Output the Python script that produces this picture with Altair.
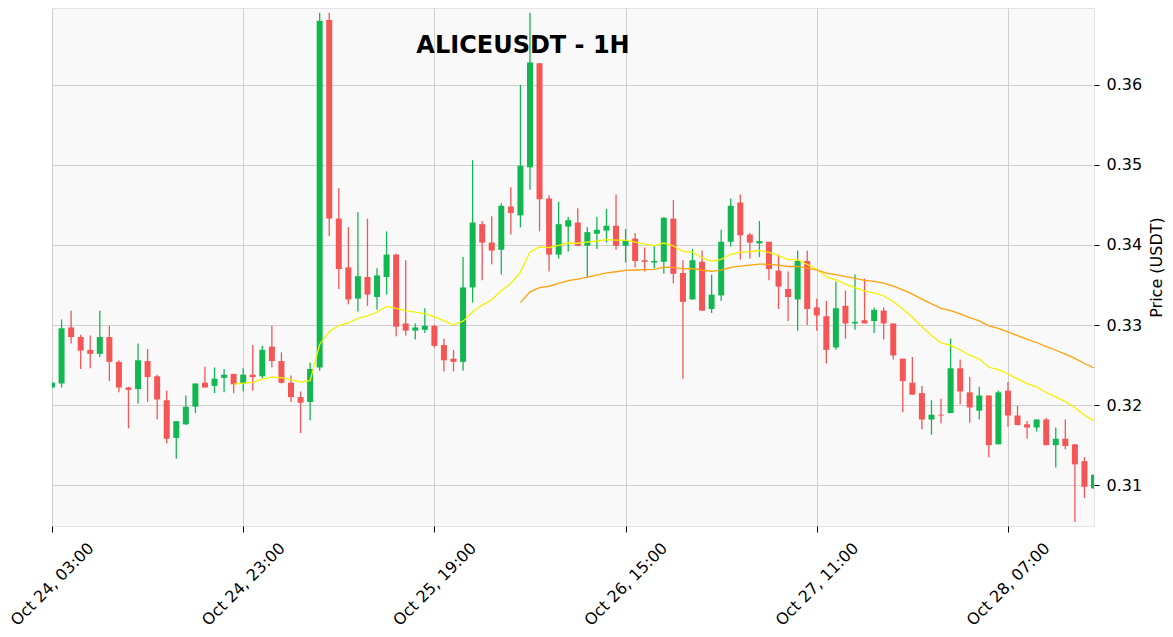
import altair as alt
import pandas as pd

# ---- data (hourly candles, index 0 = Oct 24 03:00) ----
opens = [0.3222, 0.3227, 0.3297, 0.3285, 0.3269, 0.3264, 0.3285, 0.3254, 0.3222, 0.3220,
         0.3255, 0.3236, 0.3206, 0.3159, 0.3176, 0.3198, 0.3228, 0.3224, 0.3234, 0.3239,
         0.3227, 0.3238, 0.3236, 0.3273, 0.3255, 0.3228, 0.3210, 0.3204, 0.3247, 0.3681,
         0.3433, 0.3372, 0.3333, 0.3360, 0.3335, 0.3360, 0.3388, 0.3302, 0.3293, 0.3294,
         0.3299, 0.3275, 0.3258, 0.3254, 0.3347, 0.3426, 0.3403, 0.3394, 0.3448, 0.3437,
         0.3497, 0.3627, 0.3458, 0.3388, 0.3423, 0.3428, 0.3399, 0.3414, 0.3418, 0.3424,
         0.3399, 0.3408, 0.3381, 0.3378, 0.3379, 0.3433, 0.3365, 0.3332, 0.3379, 0.3320,
         0.3337, 0.3404, 0.3453, 0.3413, 0.3402, 0.3404, 0.3368, 0.3345, 0.3332, 0.3380,
         0.3322, 0.3311, 0.3272, 0.3324, 0.3302, 0.3306, 0.3305, 0.3318, 0.3302, 0.3258,
         0.3228, 0.3215, 0.3182, 0.3188, 0.3190, 0.3246, 0.3216, 0.3193, 0.3212, 0.3151,
         0.3218, 0.3187, 0.3176, 0.3172, 0.3182, 0.3150, 0.3158, 0.3151, 0.3130, 0.3096]
highs = [0.3229, 0.3307, 0.3318, 0.3288, 0.3287, 0.3318, 0.3299, 0.3256, 0.3223, 0.3277,
         0.3270, 0.3238, 0.3218, 0.3180, 0.3212, 0.3227, 0.3248, 0.3247, 0.3245, 0.3239,
         0.3246, 0.3275, 0.3274, 0.3299, 0.3266, 0.3237, 0.3217, 0.3253, 0.3690, 0.3690,
         0.3471, 0.3422, 0.3441, 0.3433, 0.3371, 0.3417, 0.3389, 0.3381, 0.3302, 0.3321,
         0.3300, 0.3283, 0.3269, 0.3385, 0.3506, 0.3430, 0.3436, 0.3452, 0.3472, 0.3600,
         0.3690, 0.3627, 0.3462, 0.3454, 0.3435, 0.3446, 0.3422, 0.3435, 0.3445, 0.3463,
         0.3420, 0.3415, 0.3397, 0.3400, 0.3435, 0.3456, 0.3381, 0.3395, 0.3393, 0.3363,
         0.3419, 0.3458, 0.3463, 0.3415, 0.3430, 0.3404, 0.3388, 0.3367, 0.3393, 0.3393,
         0.3333, 0.3330, 0.3354, 0.3343, 0.3363, 0.3358, 0.3322, 0.3322, 0.3302, 0.3258,
         0.3260, 0.3224, 0.3206, 0.3208, 0.3283, 0.3257, 0.3235, 0.3223, 0.3212, 0.3218,
         0.3229, 0.3199, 0.3180, 0.3182, 0.3184, 0.3172, 0.3182, 0.3151, 0.3135, 0.3113]
lows = [0.3221, 0.3222, 0.3277, 0.3245, 0.3246, 0.3260, 0.3230, 0.3216, 0.3171, 0.3202,
        0.3204, 0.3182, 0.3152, 0.3133, 0.3175, 0.3190, 0.3222, 0.3215, 0.3216, 0.3215,
        0.3217, 0.3218, 0.3234, 0.3247, 0.3227, 0.3204, 0.3165, 0.3181, 0.3243, 0.3411,
        0.3345, 0.3326, 0.3317, 0.3324, 0.3319, 0.3338, 0.3286, 0.3287, 0.3282, 0.3290,
        0.3272, 0.3242, 0.3242, 0.3243, 0.3328, 0.3356, 0.3376, 0.3363, 0.3413, 0.3422,
        0.3469, 0.3417, 0.3367, 0.3383, 0.3392, 0.3399, 0.3359, 0.3395, 0.3403, 0.3394,
        0.3378, 0.3372, 0.3367, 0.3371, 0.3364, 0.3352, 0.3233, 0.3332, 0.3318, 0.3315,
        0.3330, 0.3398, 0.3382, 0.3383, 0.3385, 0.3356, 0.3320, 0.3305, 0.3293, 0.3300,
        0.3293, 0.3252, 0.3269, 0.3283, 0.3294, 0.3302, 0.3290, 0.3282, 0.3257, 0.3191,
        0.3213, 0.3170, 0.3163, 0.3177, 0.3190, 0.3201, 0.3178, 0.3182, 0.3135, 0.3151,
        0.3173, 0.3175, 0.3158, 0.3167, 0.3150, 0.3122, 0.3145, 0.3054, 0.3084, 0.3095]
closes = [0.3228, 0.3296, 0.3285, 0.3268, 0.3264, 0.3285, 0.3254, 0.3222, 0.3219, 0.3256,
          0.3235, 0.3207, 0.3158, 0.3180, 0.3198, 0.3227, 0.3222, 0.3233, 0.3238, 0.3226,
          0.3238, 0.3235, 0.3269, 0.3255, 0.3228, 0.3210, 0.3203, 0.3245, 0.3680, 0.3433,
          0.3370, 0.3332, 0.3361, 0.3338, 0.3362, 0.3388, 0.3298, 0.3293, 0.3297, 0.3299,
          0.3274, 0.3256, 0.3254, 0.3347, 0.3428, 0.3403, 0.3393, 0.3449, 0.3440, 0.3499,
          0.3628, 0.3457, 0.3388, 0.3426, 0.3431, 0.3399, 0.3416, 0.3419, 0.3424, 0.3399,
          0.3405, 0.3380, 0.3379, 0.3380, 0.3434, 0.3364, 0.3329, 0.3381, 0.3318, 0.3338,
          0.3404, 0.3449, 0.3412, 0.3403, 0.3405, 0.3370, 0.3348, 0.3335, 0.3380, 0.3320,
          0.3312, 0.3269, 0.3321, 0.3302, 0.3304, 0.3302, 0.3319, 0.3302, 0.3262, 0.3230,
          0.3213, 0.3182, 0.3188, 0.3187, 0.3246, 0.3217, 0.3197, 0.3212, 0.3150, 0.3216,
          0.3187, 0.3175, 0.3172, 0.3182, 0.3150, 0.3158, 0.3149, 0.3126, 0.3098, 0.3113]

tick_idx = [0, 20, 40, 60, 80, 100]
tick_labels = ["Oct 24, 03:00", "Oct 24, 23:00", "Oct 25, 19:00",
               "Oct 26, 15:00", "Oct 27, 11:00", "Oct 28, 07:00"]
y_ticks = [0.31, 0.32, 0.33, 0.34, 0.35, 0.36]

GREEN = "#13b752"
RED = "#f45656"
FONT = "DejaVu Sans"

df = pd.DataFrame({
    "i": list(range(len(closes))),
    "open": opens, "high": highs, "low": lows, "close": closes,
})
# moving averages of the closes (as the original chart's indicator lines)
cs = pd.Series(closes)
df["ema20"] = cs.ewm(span=20, min_periods=20).mean()
df["ema50"] = cs.ewm(span=50, min_periods=50).mean()

label_expr = ("[" + ",".join("'" + s + "'" for s in tick_labels) + "]"
              "[indexof([" + ",".join(str(v) for v in tick_idx) + "], datum.value)]")

x_enc = alt.X(
    "i:Q",
    scale=alt.Scale(domain=[0, 109], nice=False, zero=False, padding=0),
    axis=alt.Axis(
        values=tick_idx, labelExpr=label_expr, title=None,
        labelAngle=315, labelAlign="center", labelBaseline="middle",
        labelPadding=52, tickSize=6, tickColor="black", tickWidth=1,
        labelColor="black", labelFontSize=16, labelFont=FONT,
        labelOverlap=False, labelFlush=False, domain=False,
        grid=True, gridColor="#d0d0d0", gridWidth=1,
    ),
)
y_scale = alt.Scale(domain=[0.3049, 0.3696], nice=False, zero=False)
y_axis = alt.Axis(
    orient="right", values=y_ticks, format=".2f", title="Price (USDT)",
    titleAngle=270, titleBaseline="top", titlePadding=7,
    titleFont=FONT, titleFontSize=16, titleFontWeight="normal", titleColor="black",
    labelFont=FONT, labelFontSize=16, labelColor="black", labelPadding=7,
    tickSize=5, tickColor="black", domain=False,
    grid=True, gridColor="#d0d0d0", gridWidth=1,
)

color_cond = alt.condition("datum.close >= datum.open", alt.value(GREEN), alt.value(RED))

base = alt.Chart(df)

wicks = base.mark_rule(clip=True, strokeWidth=1.3).encode(
    x=x_enc,
    y=alt.Y("low:Q", scale=y_scale, axis=y_axis),
    y2="high:Q",
    color=color_cond,
)
bodies = base.mark_bar(clip=True, size=6).encode(
    x=x_enc,
    y=alt.Y("open:Q", scale=y_scale, axis=y_axis),
    y2="close:Q",
    color=color_cond,
)
ema20 = base.transform_filter("isValid(datum.ema20)").mark_line(
    clip=True, color="#f2f200", strokeWidth=1.3
).encode(x=x_enc, y=alt.Y("ema20:Q", scale=y_scale, axis=y_axis))
ema50 = base.transform_filter("isValid(datum.ema50)").mark_line(
    clip=True, color="#ffa20a", strokeWidth=1.3
).encode(x=x_enc, y=alt.Y("ema50:Q", scale=y_scale, axis=y_axis))

chart = (
    alt.layer(wicks, bodies, ema20, ema50)
    .properties(
        width=1042, height=518,
        title=alt.TitleParams(
            "ALICEUSDT - 1H", font=FONT, fontSize=24, fontWeight="bold",
            color="black", anchor="middle", frame="group", dx=-50, offset=-69,
            baseline="alphabetic",
        ),
        autosize=alt.AutoSizeParams(type="none"),
        padding={"left": 44, "top": 0, "right": 71, "bottom": 103},
        background="white",
    )
    .configure_view(fill="#f9f9f9", stroke="#e4e4e4")
)

chart.save("out.html", embed_options={"renderer": "svg", "actions": False})
